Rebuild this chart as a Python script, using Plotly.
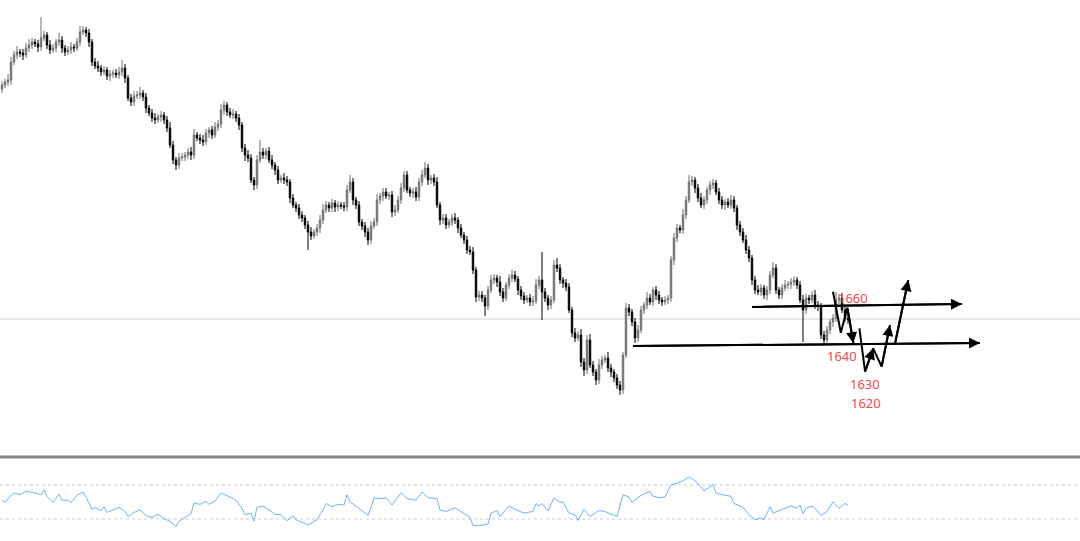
import plotly.graph_objects as go

# ---------------- price data (closes) ----------------
first_open = 1768.0
close = [
    1770, 1771.5, 1772.5, 1781.5, 1785, 1786.5, 1786, 1785, 1788.5, 1790,
    1791.5, 1790.5, 1789, 1793.5, 1795, 1790, 1787.5, 1788.5, 1791.5, 1792.5,
    1788.5, 1786.5, 1787.5, 1789, 1788.5, 1791.5, 1796.5, 1797.5, 1796, 1791.5,
    1781.5, 1779.5, 1778.5, 1776.5, 1777.5, 1774.5, 1775.5, 1776, 1775, 1776.5,
    1778.5, 1773.5, 1763.5, 1761.5, 1764.5, 1765, 1766, 1764, 1758.5, 1756,
    1753.5, 1752.5, 1754, 1755, 1752.5, 1748.5, 1740, 1732.5, 1730, 1733.5,
    1734, 1735, 1736.5, 1735, 1745, 1743.5, 1742.5, 1741.5, 1746, 1747.5,
    1745, 1749, 1750.5, 1757.5, 1760, 1756.5, 1755, 1755.5, 1753.5, 1750,
    1738.5, 1735, 1733.5, 1722.5, 1720, 1732.5, 1736.5, 1735, 1737, 1732.5,
    1730, 1727.5, 1722.5, 1723.5, 1722.5, 1721.5, 1713.5, 1710, 1708.5, 1705,
    1703.5, 1700, 1696.5, 1694.5, 1696.5, 1698.5, 1702.5, 1707.5, 1710, 1708.5,
    1711, 1709, 1710, 1709.5, 1709, 1717.5, 1721.5, 1712.5, 1710, 1701.5,
    1699.5, 1696.5, 1692.5, 1699.5, 1701.5, 1712.5, 1714.5, 1716.5, 1714.5, 1715,
    1706.5, 1707.5, 1712.5, 1718.5, 1725, 1717.5, 1716, 1716.5, 1714, 1721.5,
    1725, 1728.5, 1722.5, 1723.5, 1721.5, 1710, 1702.5, 1703.5, 1700, 1701.5,
    1703.5, 1702.5, 1698.5, 1695, 1692.5, 1687.5, 1686.5, 1677.5, 1664, 1665,
    1663.5, 1659.5, 1667.5, 1672.5, 1673.5, 1671.5, 1666.5, 1663.5, 1670, 1673.5,
    1675, 1673, 1667.5, 1664.5, 1662.5, 1663.5, 1661.5, 1662, 1670, 1672.5,
    1666.5, 1663.5, 1660, 1662.5, 1680, 1678.5, 1672.5, 1671, 1669, 1657.5,
    1646, 1643.5, 1645, 1631.5, 1627.5, 1642.5, 1630, 1626.5, 1622.5, 1630,
    1632.5, 1633.5, 1628.5, 1626.5, 1623.5, 1620, 1617.5, 1635, 1658.5, 1656.5,
    1651.5, 1643.5, 1647.5, 1657.5, 1660, 1663.5, 1661.5, 1667.5, 1665, 1662.5,
    1661.5, 1662.5, 1663.5, 1682.5, 1693.5, 1698.5, 1697.5, 1705, 1712.5, 1721.5,
    1722.5, 1718.5, 1713.5, 1710, 1712.5, 1717.5, 1720, 1721, 1716.5, 1712.5,
    1710, 1711.5, 1710, 1712.5, 1708.5, 1700, 1696.5, 1692.5, 1687.5, 1683.5,
    1672.5, 1667.5, 1666.5, 1668.5, 1665, 1667.5, 1675, 1678.5, 1667.5, 1665,
    1668.5, 1670, 1670.5, 1671.5, 1672.5, 1670, 1662.5, 1657.5, 1663.5, 1662.5,
    1665, 1660, 1659.5, 1645, 1642.5, 1647.5, 1651.5, 1653.5, 1662.5, 1663.5,
    1657.5, 1653.5, 1652.5,
]
upper_wick = [
    2, 1.5, 3, 2.5, 2, 3, 1.5, 2, 2.5, 3, 2, 1.5, 2, 10.5, 2, 1.5, 2.5, 2, 1.5, 3.5,
    2, 1.5, 2, 2.5, 1.5, 2, 3, 2, 1.5, 2, 1.5, 2, 2.5, 1.5, 2, 1.5, 2, 1.5, 2, 2.5,
    4, 2, 1.5, 2, 2.5, 2, 3, 1.5, 2, 1.5, 2, 2.5, 1.5, 2, 1.5, 2, 3, 2, 1.5, 2.5,
    2, 1.5, 2, 2.5, 3, 1.5, 2, 2.5, 2, 1.5, 2, 2.5, 2, 3, 2, 1.5, 2, 2.5, 1.5, 2,
    1.5, 2, 2.5, 2, 1.5, 2.5, 6, 2, 1.5, 2, 2.5, 1.5, 2, 1.5, 2.5, 2, 1.5, 2, 1.5, 2,
    2, 1.5, 2, 2.5, 1.5, 2, 2.5, 3, 2, 1.5, 2, 1.5, 2, 1.5, 2, 2.5, 3.5, 2, 1.5, 2,
    1.5, 2, 2, 2.5, 2, 3, 1.5, 2, 2, 1.5, 2, 2.5, 2, 2.5, 2, 2, 1.5, 2, 2.5, 2,
    2.5, 3, 2, 1.5, 2, 2.5, 1.5, 2, 2, 1.5, 2, 2.5, 1.5, 2, 1.5, 2, 2, 2.5, 1.5, 2,
    2, 1.5, 2, 2.5, 2, 1.5, 3, 2, 1.5, 2, 2.5, 2, 1.5, 2, 2, 1.5, 2, 2.5, 3, 2,
    14, 2, 1.5, 2, 2.5, 3.5, 2, 1.5, 2, 2, 1.5, 2.5, 2, 3, 2, 2.5, 3, 2, 1.5, 3,
    2, 1.5, 3, 2, 1.5, 2, 2, 1.5, 2.5, 2, 1.5, 2, 2.5, 2, 1.5, 3, 2, 1.5, 2, 2,
    1.5, 2, 1.5, 2, 2.5, 2, 1.5, 3, 2, 3.5, 2, 1.5, 2, 2.5, 2, 1.5, 2, 2, 1.5, 2,
    2, 1.5, 2, 2.5, 2, 1.5, 2, 2, 2.5, 2, 1.5, 2, 2.5, 2, 1.5, 2, 2, 3, 2, 1.5,
    2, 2.5, 1.5, 2, 2, 1.5, 2, 2.5, 2, 1.5, 2, 2.5, 2, 1.5, 2, 2, 1.5, 2, 4, 2,
    2.5, 1.5, 2,
]
lower_wick = [
    2, 1.5, 2, 2.5, 1.5, 2, 2, 2.5, 1.5, 2, 2, 1.5, 2.5, 2, 1.5, 2, 2, 1.5, 2, 2,
    2.5, 2, 1.5, 2, 2, 1.5, 2, 1.5, 2, 2.5, 2, 1.5, 2, 2, 1.5, 2, 2.5, 2, 1.5, 2,
    2, 2.5, 1.5, 2, 2, 1.5, 2, 2, 2.5, 1.5, 2, 2, 1.5, 2.5, 2, 2, 1.5, 2, 2.5, 2,
    1.5, 2, 2, 2.5, 2, 1.5, 2, 2, 1.5, 2.5, 2, 1.5, 2, 2, 2.5, 2, 1.5, 2, 2, 2.5,
    2, 3, 2, 1.5, 2.5, 2, 1.5, 2, 2, 1.5, 2, 2.5, 2, 1.5, 2, 2, 2.5, 1.5, 2, 2,
    2, 2, 9, 2, 1.5, 2, 2.5, 2, 1.5, 2, 2, 2.5, 2, 1.5, 2, 2, 1.5, 2.5, 2, 2,
    2, 2.5, 2.5, 2, 1.5, 2, 2, 2.5, 1.5, 2, 2.5, 2, 1.5, 2, 2, 1.5, 2, 2.5, 2, 2,
    2, 1.5, 2.5, 2, 2, 1.5, 2.5, 2, 2, 1.5, 2, 2, 2.5, 1.5, 2, 2, 1.5, 2, 2.5, 2,
    2, 5, 2, 1.5, 2, 2.5, 2, 2, 1.5, 2, 2, 1.5, 2.5, 2, 2, 1.5, 2, 2, 1.5, 2,
    14, 2, 2.5, 2, 1.5, 2, 2, 2.5, 2, 1.5, 2, 2, 1.5, 2.5, 3, 2, 1.5, 2, 2.5, 2,
    2, 1.5, 2, 2.5, 2, 2, 2.5, 2, 1.5, 2, 2, 2.5, 2, 1.5, 2, 2, 1.5, 2, 2.5, 2,
    2, 1.5, 2, 2, 2.5, 2, 1.5, 2, 2, 1.5, 2, 2.5, 2, 1.5, 2, 2, 2.5, 2, 1.5, 2,
    2, 2.5, 1.5, 2, 2, 2.5, 2, 1.5, 2, 2, 2.5, 2, 1.5, 2, 2, 2.5, 2, 1.5, 2, 2,
    2, 1.5, 2, 2.5, 2, 2, 1.5, 16, 2, 2, 1.5, 2, 2.5, 2, 2, 1.5, 2, 2.5, 2, 2,
    1.5, 2, 2,
]

# ---------------- oscillator (bar index, value) ----------------
osc_bar = [
    0, 1, 3, 4, 6, 8, 11, 13, 14, 15, 17, 19, 20, 22, 23, 25, 27, 28, 30, 31,
    33, 34, 35, 37, 39, 41, 42, 44, 46, 48, 50, 52, 54, 56, 58, 59, 61, 63, 64, 66,
    68, 69, 71, 73, 76, 78, 80, 81, 83, 84, 85, 87, 89, 91, 93, 95, 97, 98, 100, 102,
    105, 107, 108, 110, 112, 114, 115, 116, 119, 122, 123, 124, 127, 128, 130, 133, 135, 138, 140, 142,
    145, 146, 148, 151, 154, 156, 157, 159, 162, 163, 165, 166, 169, 171, 174, 177, 178, 179, 180, 182,
    184, 186, 187, 189, 191, 192, 194, 196, 199, 201, 205, 207, 209, 210, 213, 214, 216, 217, 219, 221,
    223, 225, 227, 229, 231, 233, 234, 237, 238, 240, 243, 244, 247, 249, 251, 253, 254, 256, 257, 260,
    261, 263, 265, 266, 267, 268, 269, 270, 271, 273, 275, 277, 279, 281, 282,
]
osc_val = [
    52.1, 49.4, 57.8, 60.5, 58.6, 62.8, 60.5, 58.6, 64.3, 56.7, 49.4, 59.0, 52.1, 52.1, 49.4, 57.8, 61.6, 55.9, 41.4, 43.3,
    39.9, 44.5, 37.6, 40.7, 43.7, 38.8, 33.0, 37.6, 40.7, 33.8, 31.9, 35.7, 30.4, 27.3, 20.9, 27.3, 31.9, 36.1, 49.0, 47.1,
    51.0, 47.1, 51.3, 60.5, 55.9, 52.1, 42.6, 35.0, 36.9, 27.3, 43.7, 45.2, 40.7, 35.7, 35.0, 28.1, 33.8, 29.2, 26.2, 22.8,
    29.2, 40.7, 48.3, 44.5, 47.1, 46.4, 58.6, 50.2, 42.6, 34.2, 43.7, 54.8, 54.0, 55.1, 46.4, 60.9, 54.0, 52.1, 61.6, 55.1,
    54.0, 40.7, 38.8, 43.3, 36.1, 31.9, 22.4, 22.4, 23.5, 36.9, 39.9, 33.0, 45.2, 41.4, 36.9, 38.8, 48.3, 45.2, 48.3, 39.5,
    54.8, 49.4, 50.2, 36.9, 35.0, 28.1, 41.4, 33.0, 39.9, 38.8, 33.0, 58.6, 55.9, 49.4, 57.8, 59.7, 62.4, 56.7, 55.1, 55.9,
    70.4, 71.9, 75.0, 79.5, 75.0, 68.1, 62.8, 70.4, 60.5, 58.6, 56.7, 48.3, 43.7, 35.0, 29.2, 31.1, 29.2, 44.5, 36.9, 40.7,
    42.6, 45.6, 42.6, 46.4, 36.1, 42.6, 43.7, 45.2, 42.6, 34.2, 38.8, 50.2, 42.6, 48.3, 46.4,
]
osc_levels = [70, 30]

# ---------------- hand-drawn analysis ----------------
gray_level = 1653
hline_1660 = {"x": [250, 320], "y": [1659, 1660.5]}
hline_1640 = {"x": [210.3, 326], "y": [1639.5, 1641]}
zig_a = {"x": [277, 279.6, 281.8, 283.8], "y": [1666.65, 1646.15, 1658.65, 1640.85]}
zig_b = {"x": [285.8, 287.7, 290.4, 293.2, 296], "y": [1648.35, 1626.65, 1638.35, 1629.15, 1650]}
zig_c = {"x": [297.7, 302.1], "y": [1640.85, 1672.5]}
label_text = ["1660", "1640", "1630", "1620"]
label_x = [283.8, 280.1, 287.7, 288.0]
label_y = [1663.4, 1634.7, 1620.5, 1611.2]

# ---------------- build OHLC ----------------
n = len(close)
bars = list(range(n))
opens = [first_open] + close[:-1]
highs = [max(o, c) + w for o, c, w in zip(opens, close, upper_wick)]
lows = [min(o, c) - w for o, c, w in zip(opens, close, lower_wick)]

fig = go.Figure()
fig.add_trace(go.Candlestick(
    x=bars, open=opens, high=highs, low=lows, close=close,
    increasing=dict(line=dict(color="#6e6e6e", width=1), fillcolor="#8c8c8c"),
    decreasing=dict(line=dict(color="#000000", width=1), fillcolor="#000000"),
    whiskerwidth=0, xaxis="x", yaxis="y", hoverinfo="skip",
))

fig.add_trace(go.Scatter(
    x=osc_bar, y=osc_val, mode="lines",
    line=dict(color="#6cb2ff", width=1),
    xaxis="x2", yaxis="y2", hoverinfo="skip",
))

for seg in (hline_1660, hline_1640, zig_a, zig_b, zig_c):
    fig.add_trace(go.Scatter(x=seg["x"], y=seg["y"], mode="lines",
                             line=dict(color="black", width=2),
                             xaxis="x", yaxis="y", hoverinfo="skip"))

annotations = []
def arrow(seg, i0, i1):
    annotations.append(dict(
        x=seg["x"][i1], y=seg["y"][i1], ax=seg["x"][i0], ay=seg["y"][i0],
        xref="x", yref="y", axref="x", ayref="y", text="", showarrow=True,
        arrowhead=2, arrowsize=1.1, arrowwidth=2, arrowcolor="black", standoff=0,
    ))

arrow(hline_1660, 0, 1)
arrow(hline_1640, 0, 1)
arrow(zig_a, 2, 3)
arrow(zig_b, 1, 2)
arrow(zig_b, 3, 4)
arrow(zig_c, 0, 1)

for t, x, y in zip(label_text, label_x, label_y):
    annotations.append(dict(x=x, y=y, xref="x", yref="y", text=t, showarrow=False,
                            font=dict(family="Noto Sans, sans-serif", size=13, color="#f24a4a")))

shapes = [
    dict(type="line", xref="paper", yref="y", x0=0, x1=1, y0=gray_level, y1=gray_level,
         line=dict(color="#cfcfcf", width=1), layer="below"),
    dict(type="line", xref="paper", yref="paper", x0=0, x1=1, y0=1 - 457 / 541, y1=1 - 457 / 541,
         line=dict(color="#858585", width=3)),
]
for lv in osc_levels:
    shapes.append(dict(type="line", xref="paper", yref="y2", x0=0, x1=1, y0=lv, y1=lv,
                       line=dict(color="#cccccc", width=1, dash="dot"), layer="below"))

xr = [-2 / 3, 1078 / 3]
fig.update_layout(
    width=1080, height=541,
    margin=dict(l=0, r=0, t=0, b=0),
    paper_bgcolor="white", plot_bgcolor="white",
    showlegend=False,
    xaxis=dict(domain=[0, 1], range=xr, visible=False, rangeslider=dict(visible=False),
               anchor="y", fixedrange=True),
    yaxis=dict(domain=[1 - 455 / 541, 1], range=[1585, 1812.5], visible=False, fixedrange=True),
    xaxis2=dict(domain=[0, 1], range=xr, visible=False, anchor="y2", fixedrange=True),
    yaxis2=dict(domain=[0, (541 - 460) / 541], range=[4.1, 99.4], visible=False, fixedrange=True),
    shapes=shapes, annotations=annotations,
)

fig.write_html(
    "out.html",
    config={"displayModeBar": False},
    post_script="document.body.style.margin='0px';document.body.style.overflow='hidden';",
)
